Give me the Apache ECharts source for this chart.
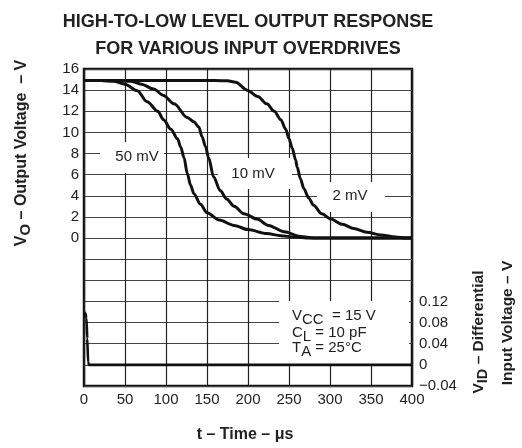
<!DOCTYPE html>
<html><head><meta charset="utf-8">
<script src="https://cdn.jsdelivr.net/npm/echarts@6/dist/echarts.min.js"></script>
<style>html,body{margin:0;padding:0;background:#fff}#c{width:522px;height:448px}</style>
</head><body><div id="c"></div>
<script>
const FONT = '"Liberation Sans", Arial, Helvetica, sans-serif';

// ---- data (t in µs, VO in V, VID in V) ----
const t50mV = [0, 20, 36, 50, 65, 77, 90, 97, 106, 114, 118, 122, 126, 130, 134, 142, 150, 165, 183, 200, 223, 240, 256, 275, 400];
const v50mV = [14.9, 14.9, 14.85, 14.56, 13.95, 12.9, 12.0, 11.2, 10.3, 9.4, 8.6, 7.6, 6.1, 5.0, 4.2, 3.2, 2.4, 1.7, 1.2, 0.8, 0.43, 0.22, 0.1, 0, 0];
const t10mV = [0, 40, 57, 70, 85, 97, 110, 126, 134, 140, 144, 148, 152, 158, 166, 174, 183, 195, 211, 225, 244, 264, 280, 400];
const v10mV = [14.9, 14.9, 14.85, 14.56, 14.1, 13.5, 12.7, 11.4, 11.0, 10.5, 9.6, 8.7, 7.6, 5.8, 4.5, 3.7, 3.0, 2.3, 1.8, 1.2, 0.6, 0.15, 0, 0];
const t2mV = [0, 160, 175, 185, 199, 212, 223, 232, 240, 246, 250, 254, 258, 260, 264, 268, 274, 280, 290, 301, 315, 329, 345, 362, 380, 392, 400];
const v2mV = [14.9, 14.9, 14.88, 14.75, 14.0, 13.4, 12.7, 12.0, 11.2, 10.3, 9.4, 8.5, 7.4, 6.7, 5.6, 4.7, 3.8, 3.1, 2.3, 1.8, 1.3, 0.9, 0.55, 0.3, 0.1, 0, 0];
const tInput = [0, 1.5, 3, 4, 5, 6, 400];
const vInput = [0.1, 0.098, 0.088, 0.05, 0.005, 0, 0];
const curveNames = ['50 mV', '10 mV', '2 mV'];
const titleLines = ['HIGH-TO-LOW LEVEL OUTPUT RESPONSE', 'FOR VARIOUS INPUT OVERDRIVES'];
const xName = 't \u2013 Time \u2013 \u03bcs';

const zip = (a, b) => a.map((v, i) => [v, b[i]]);

const ctx = document.createElement('canvas').getContext('2d');
function tw(text, size, weight) { ctx.font = (weight || 'normal') + ' ' + size + 'px ' + FONT; return ctx.measureText(text).width; }
function txt(x, y, s, size, weight, align, z) {
  return { type: 'text', x: x, y: y, z: z || 5,
    style: { text: s, fontSize: size, fontWeight: weight || 'normal', fontFamily: FONT, fill: '#222',
      align: align || 'left', verticalAlign: 'middle', textAlign: align || 'left', textVerticalAlign: 'middle' } };
}
function run(parts, x0, y0, size, subSize, weight, subDy) {
  const out = []; let x = x0;
  parts.forEach(p => {
    const fs = p.sub ? subSize : size;
    out.push(txt(x, y0 + (p.sub ? subDy : 0), p.t, fs, weight, 'left'));
    x += tw(p.t, fs, weight);
  });
  return { children: out, width: x - x0 };
}
function centeredRun(parts, size, subSize, weight, subDy) {
  const w = run(parts, 0, 0, size, subSize, weight, subDy).width;
  return run(parts, -w / 2, 0, size, subSize, weight, subDy).children;
}
function whiteRect(x, y, w, h) {
  return { type: 'rect', z: 2, shape: { x: x, y: y, width: w, height: h }, style: { fill: '#fff' } };
}

const graphics = [];
// label backgrounds (break the grid like the original)
graphics.push(whiteRect(100, 142, 64, 31));
graphics.push(whiteRect(218, 158, 74, 31));
graphics.push(whiteRect(317, 182, 68, 30));
graphics.push(whiteRect(279, 301, 130, 64));
graphics.push(txt(137, 157, curveNames[0], 15, 'normal', 'center'));
graphics.push(txt(253, 174, curveNames[1], 15, 'normal', 'center'));
graphics.push(txt(350, 196, curveNames[2], 15, 'normal', 'center'));
// test conditions
run([{ t: 'V' }, { t: 'CC', sub: true }, { t: '  = 15 V' }], 292, 316, 15, 15, 'normal', 4).children.forEach(c => graphics.push(c));
run([{ t: 'C' }, { t: 'L', sub: true }, { t: ' = 10 pF' }], 292, 333, 15, 15, 'normal', 4).children.forEach(c => graphics.push(c));
run([{ t: 'T' }, { t: 'A', sub: true }, { t: ' = 25\u00b0C' }], 292, 347.5, 15, 15, 'normal', 4).children.forEach(c => graphics.push(c));
// left axis name
graphics.push({ type: 'group', x: 22, y: 153, rotation: Math.PI / 2,
  children: centeredRun([{ t: 'V' }, { t: 'O', sub: true }, { t: ' \u2013 Output Voltage  \u2013 V' }], 16, 15, 'bold', 4) });
// right axis name
graphics.push({ type: 'group', x: 479, y: 332, rotation: Math.PI / 2,
  children: centeredRun([{ t: 'V' }, { t: 'ID', sub: true }, { t: ' \u2013 Differential' }], 15.5, 14.5, 'bold', 4) });
graphics.push({ type: 'group', x: 508, y: 323, rotation: Math.PI / 2,
  children: centeredRun([{ t: 'Input Voltage \u2013 V' }], 15.5, 14.5, 'bold', 4) });

const lineBase = { type: 'line', showSymbol: false, silent: true, smooth: 0.3, smoothMonotone: 'x', z: 3 };

const chart = echarts.init(document.getElementById('c'), null, { renderer: 'canvas' });
chart.setOption({
  animation: false,
  backgroundColor: '#fff',
  textStyle: { fontFamily: FONT },
  title: { text: titleLines.join('\n'), left: 243, top: 4, textAlign: 'center',
    textStyle: { fontSize: 18, fontWeight: 'bold', color: '#222', lineHeight: 27, fontFamily: FONT } },
  grid: { left: 84, top: 69, width: 328, height: 327, show: true, borderColor: '#111', borderWidth: 2.5, backgroundColor: 'transparent' },
  xAxis: { type: 'value', min: 0, max: 400, interval: 50,
    name: xName, nameLocation: 'middle', nameGap: 41,
    nameTextStyle: { fontSize: 16, fontWeight: 'bold', color: '#222', fontFamily: FONT, padding: [0, 6, 0, 0] },
    axisLine: { show: false }, axisTick: { show: false },
    axisLabel: { fontSize: 15, color: '#222', margin: 6, fontFamily: FONT },
    splitLine: { show: true, lineStyle: { color: '#222', width: 1.2 } } },
  yAxis: [
    { type: 'value', min: -14, max: 16, interval: 2, position: 'left',
      axisLine: { show: false }, axisTick: { show: false },
      axisLabel: { fontSize: 15, color: '#222', margin: 5, fontFamily: FONT, formatter: v => (v >= 0 ? String(v) : '') },
      splitLine: { show: true, lineStyle: { color: '#444', width: 1.2 } } },
    { type: 'value', min: -0.04, max: 0.56, interval: 0.04, position: 'right',
      axisLine: { show: false }, axisTick: { show: false }, splitLine: { show: false },
      axisLabel: { fontSize: 15, color: '#222', margin: 7, fontFamily: FONT,
        formatter: v => { const r = Math.round(v * 100) / 100; if (r > 0.125) return ''; if (r === 0) return '0'; return r < 0 ? '\u2212' + Math.abs(r).toFixed(2) : r.toFixed(2); } } }
  ],
  graphic: { elements: graphics },
  series: [
    Object.assign({}, lineBase, { name: curveNames[0], data: zip(t50mV, v50mV), yAxisIndex: 0, lineStyle: { color: '#111', width: 3 } }),
    Object.assign({}, lineBase, { name: curveNames[1], data: zip(t10mV, v10mV), yAxisIndex: 0, lineStyle: { color: '#111', width: 3 } }),
    Object.assign({}, lineBase, { name: curveNames[2], data: zip(t2mV, v2mV), yAxisIndex: 0, lineStyle: { color: '#111', width: 3 } }),
    Object.assign({}, lineBase, { name: 'VID', data: zip(tInput, vInput), yAxisIndex: 1, smooth: 0.2, lineStyle: { color: '#111', width: 2.6 } })
  ]
});
</script>
</body></html>
